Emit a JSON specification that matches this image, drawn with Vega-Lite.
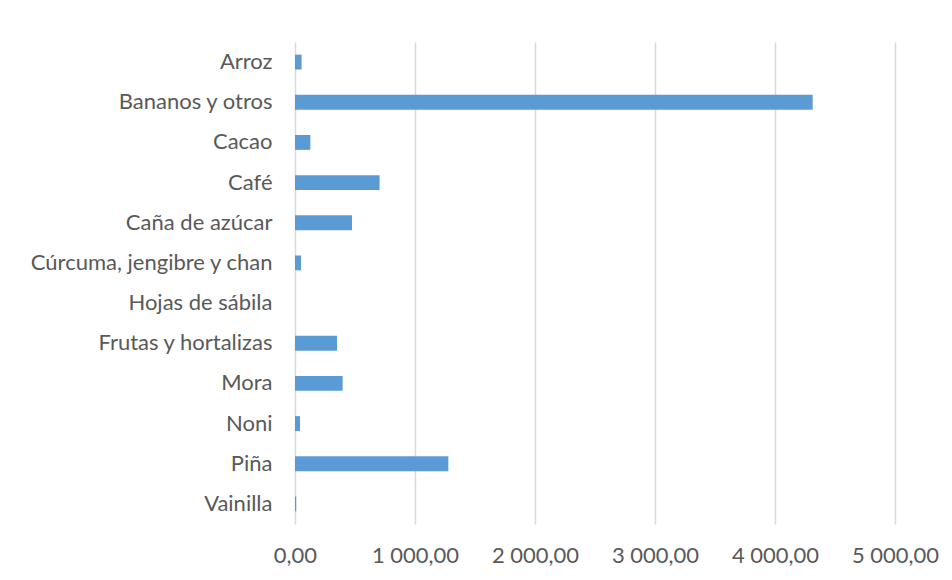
{
  "$schema": "https://vega.github.io/schema/vega-lite/v6.json",
  "width": 600,
  "height": 482,
  "autosize": "none",
  "padding": {"left": 295, "top": 42, "right": 57, "bottom": 56},
  "background": "white",
  "config": {
    "locale": {
      "number": {"decimal": ",", "thousands": " ", "grouping": [3], "currency": ["", ""]}
    },
    "view": {"stroke": null},
    "font": "Lato"
  },
  "data": {
    "values": [
      {"producto": "Arroz", "valor": 55},
      {"producto": "Bananos y otros", "valor": 4314},
      {"producto": "Cacao", "valor": 128},
      {"producto": "Café", "valor": 705},
      {"producto": "Caña de azúcar", "valor": 475},
      {"producto": "Cúrcuma, jengibre y chan", "valor": 50},
      {"producto": "Hojas de sábila", "valor": 0},
      {"producto": "Frutas y hortalizas", "valor": 350},
      {"producto": "Mora", "valor": 397},
      {"producto": "Noni", "valor": 42},
      {"producto": "Piña", "valor": 1278},
      {"producto": "Vainilla", "valor": 10}
    ]
  },
  "mark": {"type": "bar", "color": "#5B9BD5"},
  "encoding": {
    "y": {
      "field": "producto",
      "type": "nominal",
      "sort": null,
      "scale": {"paddingInner": 0.63, "paddingOuter": 0.315},
      "axis": {
        "title": null,
        "domain": false,
        "ticks": false,
        "labelPadding": 23,
        "labelLimit": 400,
        "labelFontSize": 22,
        "labelColor": "#595959",
        "labelFont": "Lato"
      }
    },
    "x": {
      "field": "valor",
      "type": "quantitative",
      "scale": {"domain": [0, 5000], "nice": false},
      "axis": {
        "title": null,
        "values": [0, 1000, 2000, 3000, 4000, 5000],
        "format": ",.2f",
        "domain": false,
        "ticks": false,
        "grid": true,
        "gridColor": "#D9D9D9",
        "gridWidth": 1.5,
        "labelFlush": false,
        "labelOverlap": false,
        "labelPadding": 21,
        "labelFontSize": 22,
        "labelColor": "#595959",
        "labelFont": "Lato"
      }
    }
  }
}
